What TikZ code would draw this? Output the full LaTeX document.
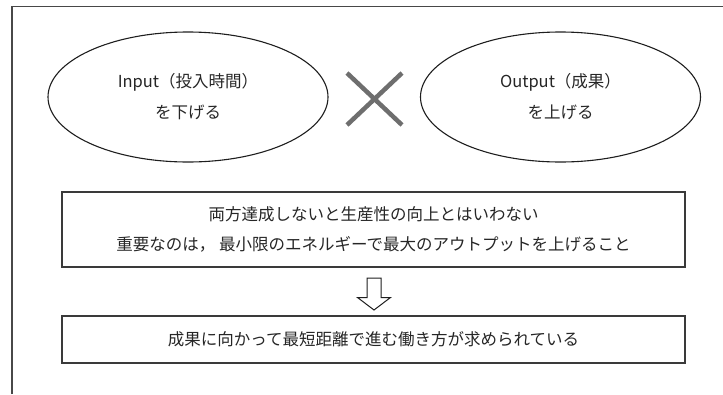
\documentclass[tikz,border=0pt]{standalone}
\usepackage{fontspec}
\setmainfont{Noto Sans CJK JP}
\usetikzlibrary{shapes.geometric,calc}
\definecolor{framec}{HTML}{484848}
\definecolor{linec}{HTML}{1E1E1E}
\definecolor{boxc}{HTML}{3A3A3A}
\definecolor{textc}{HTML}{262626}
\definecolor{crossc}{HTML}{6E6E6E}
\begin{document}
\begin{tikzpicture}[x=1pt,y=-1pt,
  oval/.style={ellipse, draw=linec, line width=1.1pt, minimum width=280pt, minimum height=130pt,
    inner sep=0pt, align=center, text=textc, font=\fontsize{16.5}{31}\selectfont},
  msgbox/.style={rectangle, draw=boxc, line width=1.4pt, minimum width=623pt, inner sep=0pt,
    align=center, text=textc, font=\fontsize{16.5}{30}\selectfont},
  crossline/.style={draw=crossc, line width=4.5pt},
  blockarrow/.style={draw=linec, line width=1pt, fill=white, line join=miter}]
\useasboundingbox (0,0) rectangle (723,394);
\draw[framec, line width=1.7pt] (12,394) -- (12,6.5) -- (723,6.5);
\node[oval] (in) at (188,97) {Input（投入時間）\\を下げる};
\node[oval] (out) at (560.5,97) {Output（成果）\\を上げる};
\coordinate (c) at (374.5,99);
\draw[crossline] ($(c)+(-27.5,-26)$) -- ($(c)+(27.5,26)$);
\draw[crossline] ($(c)+(-27.5,26)$) -- ($(c)+(27.5,-26)$);
\node[msgbox, minimum height=75pt] (b1) at (373.5,229.5) {両方達成しないと生産性の向上とはいわない\\重要なのは，\ 最小限のエネルギーで最大のアウトプットを上げること};
\node[msgbox, minimum height=47pt] (b2) at (373.5,339.5) {成果に向かって最短距離で進む働き方が求められている};
\draw[blockarrow] (367,278) -- (381,278) -- (381,297.5) -- (390.5,297.5) -- (374,310) -- (357.5,297.5) -- (367,297.5) -- cycle;
\end{tikzpicture}
\end{document}
